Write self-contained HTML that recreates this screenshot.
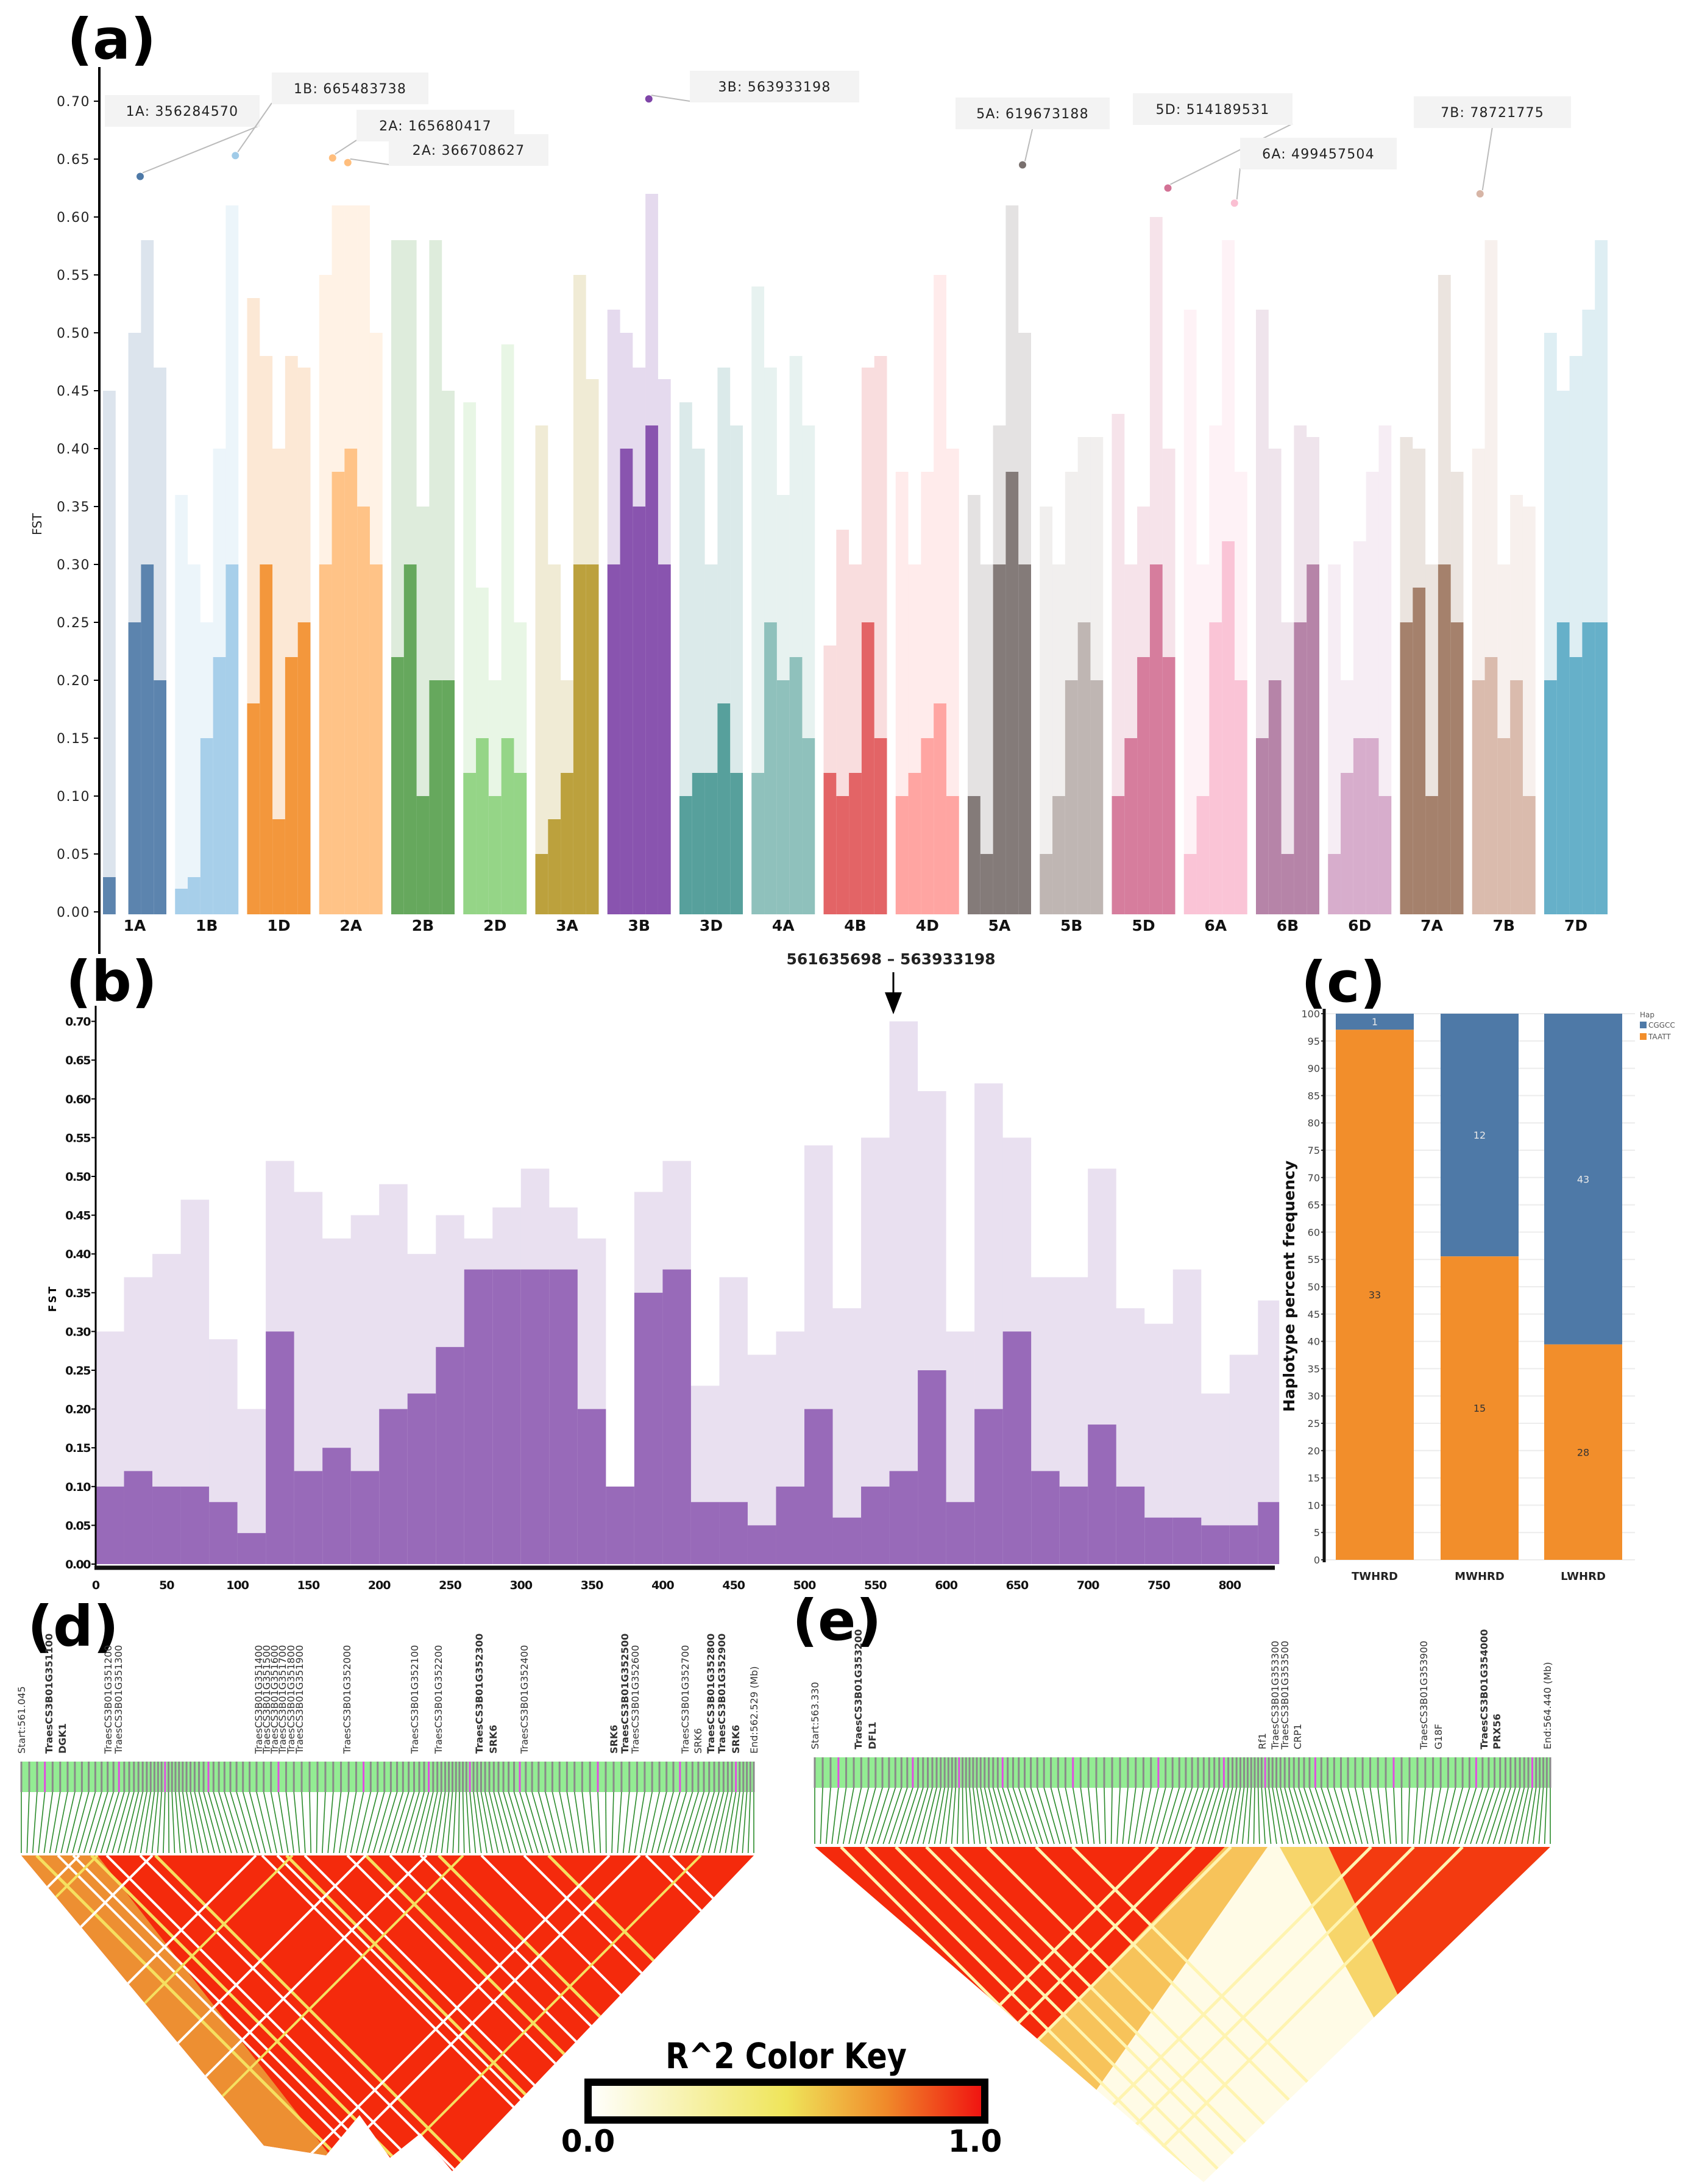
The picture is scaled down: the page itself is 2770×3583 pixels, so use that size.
<!DOCTYPE html>
<html><head><meta charset="utf-8"><style>
html,body{margin:0;padding:0;background:#fff}
svg{display:block}
text{font-family:"DejaVu Sans","Liberation Sans",sans-serif}
.lbl{font-weight:bold;font-size:92px}
</style></head><body>
<svg id="fig" xmlns="http://www.w3.org/2000/svg" width="2770" height="3583" viewBox="0 0 2770 3583">
<rect width="2770" height="3583" fill="#fff"/>
<g id="pa"></g>
<g id="pb"></g>
<g id="pc"></g>
<g id="pd"></g>
<g id="pe"></g>
<g id="key"></g>
</svg>
<script>
// ---------- Panel A data ----------
const chroms=["1A","1B","1D","2A","2B","2D","3A","3B","3D","4A","4B","4D","5A","5B","5D","6A","6B","6D","7A","7B","7D"];
const chromColors=["#4e79a7","#a0cbe8","#f28e2b","#ffbe7d","#59a14f","#8cd17d","#b6992d","#7f45a8","#499894","#86bcb6","#e15759","#ff9d9a","#79706e","#bab0ac","#d37295","#fabfd2","#b07aa1","#d4a6c8","#9d7660","#d7b5a6","#59a9c4"];
const denseTop=[[0.03,0,0.25,0.30,0.20],[0.02,0.03,0.15,0.22,0.30],[0.18,0.30,0.08,0.22,0.25],[0.30,0.38,0.40,0.35,0.30],[0.22,0.30,0.10,0.20,0.20],[0.12,0.15,0.10,0.15,0.12],[0.05,0.08,0.12,0.30,0.30],[0.30,0.40,0.35,0.42,0.30],[0.10,0.12,0.12,0.18,0.12],[0.12,0.25,0.20,0.22,0.15],[0.12,0.10,0.12,0.25,0.15],[0.10,0.12,0.15,0.18,0.10],[0.10,0.05,0.30,0.38,0.30],[0.05,0.10,0.20,0.25,0.20],[0.10,0.15,0.22,0.30,0.22],[0.05,0.10,0.25,0.32,0.20],[0.15,0.20,0.05,0.25,0.30],[0.05,0.12,0.15,0.15,0.10],[0.25,0.28,0.10,0.30,0.25],[0.20,0.22,0.15,0.20,0.10],[0.20,0.25,0.22,0.25,0.25]];
const sparseTop=[[0.45,0,0.50,0.58,0.47],[0.36,0.30,0.25,0.40,0.61],[0.53,0.48,0.40,0.48,0.47],[0.55,0.61,0.61,0.61,0.50],[0.58,0.58,0.35,0.58,0.45],[0.44,0.28,0.20,0.49,0.25],[0.42,0.30,0.20,0.55,0.46],[0.52,0.50,0.47,0.62,0.46],[0.44,0.40,0.30,0.47,0.42],[0.54,0.47,0.36,0.48,0.42],[0.23,0.33,0.30,0.47,0.48],[0.38,0.30,0.38,0.55,0.40],[0.36,0.30,0.42,0.61,0.50],[0.35,0.30,0.38,0.41,0.41],[0.43,0.30,0.35,0.60,0.40],[0.52,0.30,0.42,0.58,0.38],[0.52,0.40,0.25,0.42,0.41],[0.30,0.20,0.32,0.38,0.42],[0.41,0.40,0.30,0.55,0.38],[0.40,0.58,0.30,0.36,0.35],[0.50,0.45,0.48,0.52,0.58]];
const peakLabels=["1A: 356284570","1B: 665483738","2A: 165680417","2A: 366708627","3B: 563933198","5A: 619673188","5D: 514189531","6A: 499457504","7B: 78721775"];
const peakChrom=[0,1,3,3,7,12,14,15,19];
const peakOffset=[9,47,-30,-5,16,38,40,31,-39];
const peakValues=[0.635,0.653,0.651,0.647,0.702,0.645,0.625,0.612,0.620];
const yTicksA=[0,0.05,0.10,0.15,0.20,0.25,0.30,0.35,0.40,0.45,0.50,0.55,0.60,0.65,0.70];
// ---------- Panel B data ----------
const binStartsB=[0,20,40,60,80,100,120,140,160,180,200,220,240,260,280,300,320,340,360,380,400,420,440,460,480,500,520,540,560,580,600,620,640,660,680,700,720,740,760,780,800,820];
const binDenseB=[0.10,0.12,0.10,0.10,0.08,0.04,0.30,0.12,0.15,0.12,0.20,0.22,0.28,0.38,0.38,0.38,0.38,0.20,0.10,0.35,0.38,0.08,0.08,0.05,0.10,0.20,0.06,0.10,0.12,0.25,0.08,0.20,0.30,0.12,0.10,0.18,0.10,0.06,0.06,0.05,0.05,0.08];
const binSparseB=[0.30,0.37,0.40,0.47,0.29,0.20,0.52,0.48,0.42,0.45,0.49,0.40,0.45,0.42,0.46,0.51,0.46,0.42,0.10,0.48,0.52,0.23,0.37,0.27,0.30,0.54,0.33,0.55,0.70,0.61,0.30,0.62,0.55,0.37,0.37,0.51,0.33,0.31,0.38,0.22,0.27,0.34];
const xTicksB=[0,50,100,150,200,250,300,350,400,450,500,550,600,650,700,750,800];
const yTicksB=[0,0.05,0.10,0.15,0.20,0.25,0.30,0.35,0.40,0.45,0.50,0.55,0.60,0.65,0.70];
// ---------- Panel C data ----------
const groupsC=["TWHRD","MWHRD","LWHRD"];
const countTAATT=[33,15,28];
const countCGGCC=[1,12,43];
const yTicksC=[0,5,10,15,20,25,30,35,40,45,50,55,60,65,70,75,80,85,90,95,100];
// ---------- Panel D/E labels ----------
const genesD=[["Start:561.045",35,0],["TraesCS3B01G351100",80,1],["DGK1",102,1],["TraesCS3B01G351200",177,0],["TraesCS3B01G351300",194,0],["TraesCS3B01G351400",424,0],["TraesCS3B01G351500",437,0],["TraesCS3B01G351600",450,0],["TraesCS3B01G351700",463,0],["TraesCS3B01G351800",477,0],["TraesCS3B01G351900",491,0],["TraesCS3B01G352000",569,0],["TraesCS3B01G352100",680,0],["TraesCS3B01G352200",719,0],["TraesCS3B01G352300",786,1],["SRK6",809,1],["TraesCS3B01G352400",860,0],["SRK6",1007,1],["TraesCS3B01G352500",1025,1],["TraesCS3B01G352600",1042,0],["TraesCS3B01G352700",1124,0],["SRK6",1145,0],["TraesCS3B01G352800",1166,1],["TraesCS3B01G352900",1184,1],["SRK6",1207,1],["End:562.529 (Mb)",1237,0]];
const genesE=[["Start:563.330",1337,0],["TraesCS3B01G353200",1408,1],["DFL1",1431,1],["Rf1",2071,0],["TraesCS3B01G353300",2092,0],["TraesCS3B01G353500",2108,0],["CRP1",2129,0],["TraesCS3B01G353900",2336,0],["G18F",2360,0],["TraesCS3B01G354000",2435,1],["PRX56",2456,1],["End:564.440 (Mb)",2539,0]];

const NS="http://www.w3.org/2000/svg";
function mk(parent,tag,attrs,txt){const e=document.createElementNS(NS,tag);for(const k in attrs)e.setAttribute(k,attrs[k]);if(txt!==undefined)e.textContent=txt;parent.appendChild(e);return e;}

// ===== Panel A =====
const pa=document.getElementById('pa');
const ya=v=>1496-v*1900;
const cxA=i=>221+118.25*i;
let t=mk(pa,'text',{x:110,y:96,class:'lbl'},'(a)');


let ax=mk(pa,'line',{x1:163,y1:110,x2:163,y2:1565,stroke:'#000','stroke-width':4});


yTicksA.forEach(v=>{
  mk(pa,'line',{x1:154,y1:ya(v),x2:163,y2:ya(v),stroke:'#000','stroke-width':2});
  const tl=mk(pa,'text',{x:148,y:ya(v)+8,'text-anchor':'end','font-size':22,'letter-spacing':'1.5',fill:'#222'},v.toFixed(2));
  
  
});
t=mk(pa,'text',{x:0,y:0,'font-size':20,transform:'translate(68,860) rotate(-90)','text-anchor':'middle',fill:'#222'},'FST');


chroms.forEach((c,i)=>{
  const g=mk(pa,'g',{});
  
  
  const sw=20.8,x0=cxA(i)-52;
  for(let k=0;k<5;k++){
    const d=denseTop[i][k],s=sparseTop[i][k];
    if(s>0){const r=mk(g,'rect',{x:x0+k*sw,y:ya(s),width:sw,height:ya(d)-ya(s),fill:chromColors[i],opacity:0.2});
      
      }
    if(d>0){const r=mk(g,'rect',{x:x0+k*sw,y:ya(d),width:sw,height:ya(0)-ya(d)+4,fill:chromColors[i],opacity:0.92});
      
      }
  }
  const tl=mk(pa,'text',{x:cxA(i),y:1527,'text-anchor':'middle','font-size':25,'font-weight':'bold',fill:'#111'},c);
  
  
});
const boxes=[[172,156,254],[446,119,257],[585,180,259],[638,220,262],[1132,116,278],[1568,160,253],[1859,153,262],[2035,226,257],[2320,158,258]];
peakLabels.forEach((lab,j)=>{
  const px=cxA(peakChrom[j])+peakOffset[j],py=ya(peakValues[j]);
  const b=boxes[j];
  const lx=Math.abs(b[0]+b[2]/2-px)<60?b[0]+b[2]/2:(b[0]>px?b[0]:b[0]+b[2]);
  mk(pa,'line',{x1:px+4,y1:py-6,x2:lx,y2:b[1]+50,stroke:'#bbb','stroke-width':2});
  const r=mk(pa,'rect',{x:b[0],y:b[1],width:b[2],height:52,fill:'#f3f3f3'});
  
  
  const tl=mk(pa,'text',{x:b[0]+b[2]/2,y:b[1]+34,'text-anchor':'middle','font-size':22,'letter-spacing':'1.2',fill:'#222'},lab);
  
  
  const d=mk(pa,'circle',{cx:px,cy:py,r:6,fill:chromColors[peakChrom[j]]});
  
  
});

// ===== Panel B =====
const pb=document.getElementById('pb');
const xb=m=>157+m*2.326;
const yb=v=>2566-v*1272;
t=mk(pb,'text',{x:108,y:1642,class:'lbl'},'(b)');


binStartsB.forEach((m,i)=>{
  const w=(i<binStartsB.length-1?binStartsB[i+1]-m:15)*2.326;
  const r1=mk(pb,'rect',{x:xb(m),y:yb(binSparseB[i]),width:w,height:yb(binDenseB[i])-yb(binSparseB[i]),fill:'#7e45a8',opacity:0.17});
  
  
  const r2=mk(pb,'rect',{x:xb(m),y:yb(binDenseB[i]),width:w,height:yb(0)-yb(binDenseB[i]),fill:'#7e45a8',opacity:0.8});
  
  
});
ax=mk(pb,'line',{x1:157,y1:1650,x2:157,y2:2574,stroke:'#000','stroke-width':3});


ax=mk(pb,'line',{x1:155,y1:2572,x2:2092,y2:2572,stroke:'#111','stroke-width':7});


yTicksB.forEach(v=>{
  mk(pb,'line',{x1:150,y1:yb(v),x2:157,y2:yb(v),stroke:'#000','stroke-width':2});
  const tl=mk(pb,'text',{x:148,y:yb(v)+7,'text-anchor':'end','font-size':19,'font-weight':'bold','letter-spacing':'-1.5',fill:'#111'},v.toFixed(2));
  
  
});
xTicksB.forEach(m=>{
  const tl=mk(pb,'text',{x:xb(m),y:2607,'text-anchor':'middle','font-size':19,'font-weight':'bold','letter-spacing':'-1',fill:'#111'},String(m));
  
  
});
t=mk(pb,'text',{x:0,y:0,'font-size':17,'font-weight':'bold','letter-spacing':'3',transform:'translate(92,2130) rotate(-90)','text-anchor':'middle'},'FST');


t=mk(pb,'text',{x:1462,y:1582,'text-anchor':'middle','font-size':25,'font-weight':'bold',fill:'#222'},'561635698 – 563933198');


mk(pb,'line',{x1:1466,y1:1595,x2:1466,y2:1640,stroke:'#000','stroke-width':3});
t=mk(pb,'path',{d:'M1452,1628 L1480,1628 L1466,1664 Z',fill:'#000'});



// ===== Panel C =====
const pc=document.getElementById('pc');
const yc=v=>2559-v*8.96;
const barX=[2192,2364,2534],barW=128;
t=mk(pc,'text',{x:2135,y:1643,class:'lbl'},'(c)');


yTicksC.forEach(v=>{
  mk(pc,'line',{x1:2176,y1:yc(v),x2:2683,y2:yc(v),stroke:'#ececec','stroke-width':2});
  mk(pc,'line',{x1:2168,y1:yc(v),x2:2174,y2:yc(v),stroke:'#333','stroke-width':2});
  const tl=mk(pc,'text',{x:2166,y:yc(v)+6,'text-anchor':'end','font-size':16,fill:'#444'},String(v));
  
  
});
groupsC.forEach((g,i)=>{
  const tot=countTAATT[i]+countCGGCC[i];
  const pT=countTAATT[i]/tot*100;
  const rb=mk(pc,'rect',{x:barX[i],y:yc(100),width:barW,height:yc(pT)-yc(100),fill:'#4e79a7'});
  
  
  const ro=mk(pc,'rect',{x:barX[i],y:yc(pT),width:barW,height:yc(0)-yc(pT),fill:'#f28e2b'});
  
  
  const l1=mk(pc,'text',{x:barX[i]+barW/2,y:(yc(100)+yc(pT))/2+6,'text-anchor':'middle','font-size':16,fill:'#e8e8e8'},String(countCGGCC[i]));
  
  
  const l2=mk(pc,'text',{x:barX[i]+barW/2,y:(yc(pT)+yc(0))/2+6,'text-anchor':'middle','font-size':16,fill:'#333'},String(countTAATT[i]));
  
  
  const cl=mk(pc,'text',{x:barX[i]+barW/2,y:2592,'text-anchor':'middle','font-size':18,'font-weight':'bold',fill:'#222'},g);
  
  
});
ax=mk(pc,'line',{x1:2173,y1:1655,x2:2173,y2:2563,stroke:'#111','stroke-width':5});


t=mk(pc,'text',{x:0,y:0,'font-size':25,'font-weight':'bold',transform:'translate(2124,2110) rotate(-90)','text-anchor':'middle',fill:'#111'},'Haplotype percent frequency');


const lg=mk(pc,'g',{});


mk(lg,'text',{x:2691,y:1669,'font-size':12,fill:'#555'},'Hap');
mk(lg,'rect',{x:2691,y:1676,width:11,height:11,fill:'#4e79a7'});
mk(lg,'text',{x:2705,y:1686,'font-size':12,fill:'#555'},'CGGCC');
mk(lg,'rect',{x:2691,y:1695,width:11,height:11,fill:'#f28e2b'});
mk(lg,'text',{x:2705,y:1705,'font-size':12,fill:'#555'},'TAATT');

// ===== LD panels =====
function genes(parent,list,baseY){
  list.forEach(g=>{
    const tl=mk(parent,'text',{x:0,y:0,transform:'translate('+(g[1]+6)+','+baseY+') rotate(-90)','font-size':16,'font-family':'Liberation Sans, sans-serif','font-weight':g[2]?'bold':'normal',fill:'#333'},g[0]);
    
    
  });
}
function snpBar(parent,x0,x1,y0,h,yTri,name){
  const bar=mk(parent,'rect',{x:x0,y:y0,width:x1-x0,height:h,fill:'#93ec93'});
  
  
  const n=130;
  for(let i=0;i<n;i++){
    const f=i/(n-1);
    const warp=f+0.025*Math.sin(f*Math.PI*5);
    const xs=x0+Math.min(1,Math.max(0,warp))*(x1-x0);
    mk(parent,'rect',{x:xs-1.5,y:y0,width:3,height:h,fill:i%11==3?'#e14de1':'#8a8a8a'});
    mk(parent,'line',{x1:xs,y1:y0+h,x2:x0+f*(x1-x0),y2:yTri,stroke:'#2a8a2a','stroke-width':1.6});
  }
}
const pd=document.getElementById('pd');
t=mk(pd,'text',{x:45,y:2700,class:'lbl'},'(d)');


genes(pd,genesD,2877);
snpBar(pd,35,1237,2890,50,3040,'panel-d');
const dpoly='35,3044 1237,3044 742,3562 690,3500 640,3540 590,3470 535,3536 433,3520';
mk(pd,'defs',{}).innerHTML='<clipPath id="cd"><polygon points="'+dpoly+'"/></clipPath><clipPath id="ce"><polygon points="1337,3030 2544,3030 1975,3580"/></clipPath>';
t=mk(pd,'polygon',{points:dpoly,fill:'#f42a0c'});


const dg=mk(pd,'g',{'clip-path':'url(#cd)'});
mk(dg,'polygon',{points:'35,3044 160,3044 560,3560 420,3560',fill:'#eba13a',opacity:0.85});
[60,95,120,150,175,230,255,430,455,470,500,570,600,640,690,720,790,860,900,1060,1100].forEach((x,k)=>{
  mk(dg,'line',{x1:x,y1:3044,x2:x+560,y2:3604,stroke:k%3==0?'#f5e060':'#fff','stroke-width':k%3==0?5:4});
});
[130,160,250,420,480,600,700,760,1000,1050,1150].forEach((x,k)=>{
  mk(dg,'line',{x1:x,y1:3044,x2:x-560,y2:3604,stroke:k%3==1?'#f5e060':'#fff','stroke-width':4});
});

const pe=document.getElementById('pe');
t=mk(pe,'text',{x:1300,y:2690,class:'lbl'},'(e)');


genes(pe,genesE,2870);
snpBar(pe,1337,2544,2883,50,3025,'panel-e');
t=mk(pe,'polygon',{points:'1337,3030 2544,3030 1975,3580',fill:'#fffbe6'});


const eg=mk(pe,'g',{'clip-path':'url(#ce)'});
mk(eg,'polygon',{points:'1337,3030 2010,3030 1700,3350',fill:'#f42a0c'});
mk(eg,'polygon',{points:'1700,3350 2010,3030 2080,3030 1770,3470',fill:'#f7c35a'});
mk(eg,'polygon',{points:'2180,3030 2544,3030 2297,3280',fill:'#f33a10'});
mk(eg,'polygon',{points:'2100,3030 2180,3030 2297,3280 2260,3320',fill:'#f7d56a'});
[1380,1420,1470,1520,1560,1620,1700,1760].forEach(x=>{
  mk(eg,'line',{x1:x,y1:3030,x2:x+560,y2:3590,stroke:'#fff4b0','stroke-width':5});
});
[1900,1960,2020,2250,2320,2400].forEach(x=>{
  mk(eg,'line',{x1:x,y1:3030,x2:x-560,y2:3590,stroke:'#fff4b0','stroke-width':5});
});

// ===== Color key =====
const key=document.getElementById('key');
key.innerHTML='<defs><linearGradient id="kg" x1="0" x2="1" y1="0" y2="0"><stop offset="0" stop-color="#ffffff"/><stop offset="0.5" stop-color="#efe55a"/><stop offset="0.75" stop-color="#f08a2a"/><stop offset="1" stop-color="#f01010"/></linearGradient></defs>';
t=mk(key,'rect',{x:965,y:3416,width:651,height:62,fill:'url(#kg)',stroke:'#000','stroke-width':12});


t=mk(key,'text',{x:1290,y:3393,'text-anchor':'middle','font-size':58,'font-weight':'bold','font-family':'Liberation Sans Narrow, Liberation Sans, sans-serif',transform:'translate(1290,3393) scale(0.85,1) translate(-1290,-3393)'},'R^2 Color Key');


t=mk(key,'text',{x:965,y:3530,'text-anchor':'middle','font-size':50,'font-weight':'bold'},'0.0');


t=mk(key,'text',{x:1600,y:3530,'text-anchor':'middle','font-size':50,'font-weight':'bold'},'1.0');


</script>
</body></html>
